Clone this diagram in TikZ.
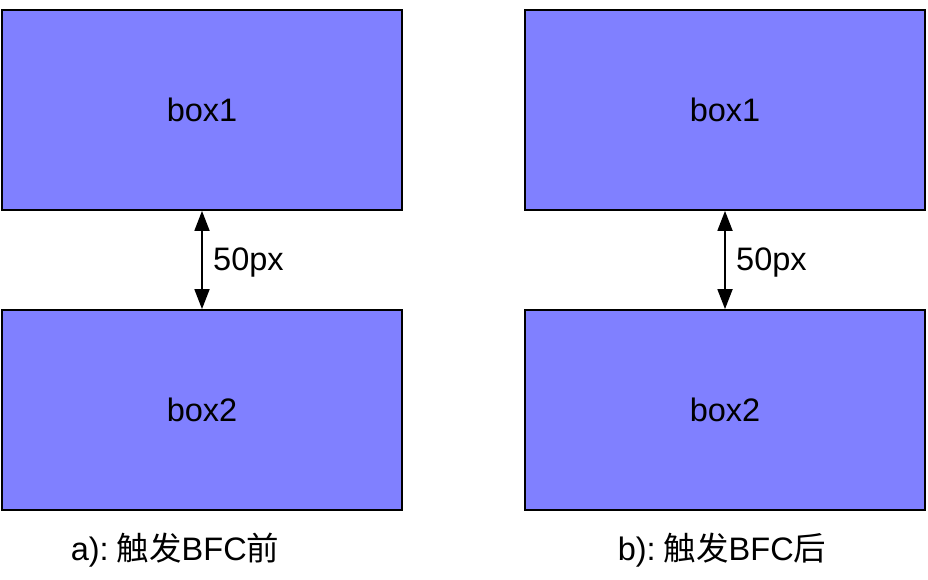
\documentclass[tikz,border=0pt]{standalone}
\usepackage{fontspec}
\setmainfont{Liberation Sans}
\newfontfamily\cjk{Noto Sans CJK SC}
\usetikzlibrary{arrows.meta}
\definecolor{boxfill}{HTML}{8080FF}
\tikzset{
  boxnode/.style={draw=black, line width=1.8pt, fill=boxfill, minimum width=400pt, minimum height=200pt, inner sep=0pt, font=\fontsize{32.5}{38}\selectfont},
  gap/.style={line width=1.8pt, {Triangle[width=15pt,length=20pt]}-{Triangle[width=15pt,length=20pt]}},
  lbl/.style={font=\fontsize{32.5}{38}\selectfont, anchor=west, inner sep=0pt},
  captiontext/.style={font=\fontsize{32.5}{38}\selectfont, inner sep=0pt}
}
\begin{document}
\begin{tikzpicture}[x=1pt,y=-1pt]
\useasboundingbox (0,0) rectangle (928,580);
\node[boxnode] (a1) at (202,110) {box1};
\node[boxnode] (a2) at (202,410) {box2};
\node[boxnode] (b1) at (725,110) {box1};
\node[boxnode] (b2) at (725,410) {box2};
\draw[gap] (a1.south) -- (a2.north);
\draw[gap] (b1.south) -- (b2.north);
\node[lbl] (la) at (213,263) {50px};
\node[lbl] (lb) at (736,263) {50px};
\node[captiontext] (ca) at (175,550) {a):\hspace{8pt}{\cjk 触发}BFC{\cjk 前}};
\node[captiontext] (cb) at (722,550) {b):\hspace{8pt}{\cjk 触发}BFC{\cjk 后}};
\end{tikzpicture}
\end{document}
